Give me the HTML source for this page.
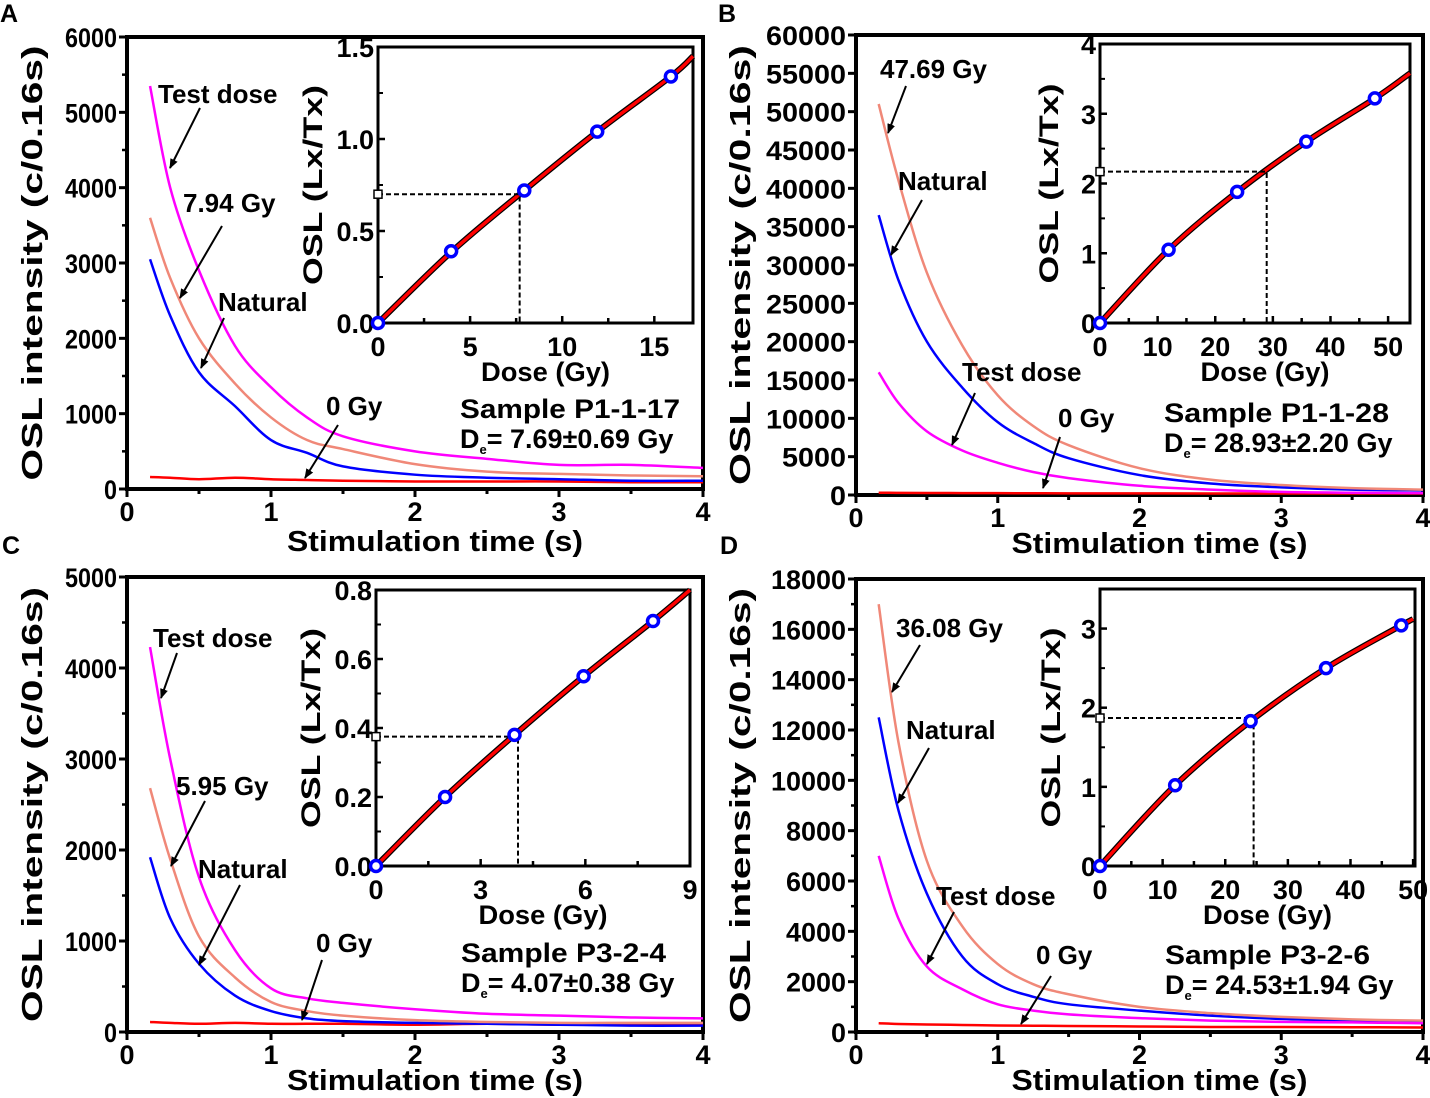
<!DOCTYPE html>
<html><head><meta charset="utf-8">
<style>
body{margin:0;background:#fff;}
svg{display:block;font-family:"Liberation Sans",Arial,sans-serif;font-weight:bold;}
</style></head>
<body>
<svg id="fig" width="1430" height="1098" viewBox="0 0 1430 1098" xmlns="http://www.w3.org/2000/svg">
<defs><marker id="ah" markerWidth="10" markerHeight="10" refX="9" refY="5" orient="auto" markerUnits="userSpaceOnUse"><path d="M0,1 L10,5 L0,9 Z" fill="#000"/></marker></defs>
</svg>
<script>
// shared time axis for decay curves (s)
const times = [0.16,0.3,0.5,0.75,1,1.25,1.5,2,2.5,3,3.5,4];
// Panel A
const aTest = [5350,4000,2900,1900,1350,950,700,500,400,320,320,280];
const aDoseCurve = [3600,2800,2000,1400,950,650,530,330,230,200,180,170];
const aNatural = [3050,2300,1550,1100,650,480,300,190,150,130,110,110];
const aZero = [160,150,130,150,130,120,110,100,100,100,90,90];
const aDose = [0,3.97,7.94,11.9,15.9];
const aLx = [0,0.39,0.72,1.04,1.34];
const aFitX = [0,3.97,7.94,11.9,15.9,17.1];
const aFitY = [0,0.385,0.72,1.04,1.34,1.45];
const aDe = 7.69, aNatLx = 0.70;
// Panel B
const bTest = [16000,12000,8300,5800,4200,3000,2200,1200,700,400,300,250];
const bDoseCurve = [51000,41000,29000,19500,13000,9000,6500,3500,2000,1300,900,700];
const bNatural = [36500,28000,20000,14000,9500,6800,4800,2600,1500,1000,700,600];
const bZero = [300,280,260,250,240,230,220,210,200,200,190,190];
const bDose = [0,11.9,23.8,35.8,47.7];
const bLx = [0,1.05,1.88,2.6,3.22];
const bFitX = [0,11.9,23.8,35.8,47.7,53.8];
const bFitY = [0,1.05,1.88,2.6,3.22,3.58];
const bDe = 28.93, bNatLx = 2.17;
// Panel C
const cTest = [4230,3000,1700,900,480,370,320,250,200,180,160,150];
const cDoseCurve = [2680,1900,1050,600,330,230,180,130,110,100,100,100];
const cNatural = [1920,1250,750,400,230,150,120,100,90,80,70,70];
const cZero = [110,100,90,100,90,90,90,80,90,80,80,80];
const cDose = [0,1.98,3.97,5.95,7.94];
const cLx = [0,0.2,0.38,0.55,0.71];
const cFitX = [0,1.98,3.97,5.95,7.94,9];
const cFitY = [0,0.2,0.38,0.55,0.71,0.8];
const cDe = 4.07, cNatLx = 0.375;
// Panel D
const dTest = [7000,4500,2600,1700,1100,850,700,550,450,400,380,350];
const dDoseCurve = [17000,11500,6800,4200,2700,1900,1500,1000,750,600,500,450];
const dNatural = [12500,8800,5500,3000,1900,1400,1100,850,650,520,450,400];
const dZero = [350,320,300,280,260,250,240,220,200,200,190,180];
const dDose = [0,12,24.05,36.08,48.1];
const dLx = [0,1.02,1.83,2.5,3.04];
const dFitX = [0,12,24.05,36.08,48.1,50];
const dFitY = [0,1.02,1.83,2.5,3.04,3.12];
const dDe = 24.53, dNatLx = 1.87;

const svg = document.getElementById('fig');
const NS = 'http://www.w3.org/2000/svg';
function mk(tag, attrs, parent){
  const e = document.createElementNS(NS, tag);
  for (const k in attrs) e.setAttribute(k, attrs[k]);
  (parent||svg).appendChild(e); return e;
}
function txt(s, x, y, size, anchor, parent, len){
  const t = mk('text', {x:x, y:y, 'font-size':size, 'text-anchor':anchor||'start', fill:'#000'}, parent);
  if (len){ t.setAttribute('textLength', len); t.setAttribute('lengthAdjust','spacingAndGlyphs'); }
  t.textContent = s; return t;
}
function smooth(pts){
  let d = 'M'+pts[0][0]+','+pts[0][1];
  for (let i=0;i<pts.length-1;i++){
    const p0=pts[Math.max(0,i-1)],p1=pts[i],p2=pts[i+1],p3=pts[Math.min(pts.length-1,i+2)];
    const c1=[p1[0]+(p2[0]-p0[0])/6,p1[1]+(p2[1]-p0[1])/6];
    const c2=[p2[0]-(p3[0]-p1[0])/6,p2[1]-(p3[1]-p1[1])/6];
    d+=' C'+c1[0]+','+c1[1]+' '+c2[0]+','+c2[1]+' '+p2[0]+','+p2[1];
  }
  return d;
}
function fmt(v, dec){ return dec ? v.toFixed(dec) : String(v); }

function panel(c){
  const g = mk('g', {});
  
  
  const M = c.main;
  const sx = v => M.l + (v - 0)/(4-0)*(M.r - M.l);
  const sy = v => M.b - v/M.ymax*(M.b - M.t);
  const L = txt(c.letter, c.letterX, c.letterY, 25, 'start', g);
  
  
  const fr = mk('rect', {x:M.l, y:sy(M.ymax), width:M.r-M.l, height:M.b-sy(M.ymax), fill:'none', stroke:'#000', 'stroke-width':4}, g);
  
  
  for (let v=0; v<=M.ymax+1e-9; v+=M.ystep){
    mk('line',{x1:M.l-8,x2:M.l,y1:sy(v),y2:sy(v),stroke:'#000','stroke-width':3},g);
    const s = String(v);
    const t = txt(s, M.l-10, sy(v)+10, 27, 'end', g, s.length*M.digitW);
    
    
    if (M.minor && v+M.ystep/2<M.ymax) mk('line',{x1:M.l-5,x2:M.l,y1:sy(v+M.ystep/2),y2:sy(v+M.ystep/2),stroke:'#000','stroke-width':2.5},g);
  }
  for (let v=0; v<=4; v+=0.5){
    mk('line',{x1:sx(v),x2:sx(v),y1:M.b,y2:M.b+(v%1===0?8:5),stroke:'#000','stroke-width':3},g);
    if (v%1===0){
      const t = txt(String(v), sx(v), M.b+32, 27, 'middle', g);
      
      
    }
  }
  const yt = txt('OSL intensity (c/0.16s)', 0, 0, 29, 'middle', g, c.yTitleLen);
  yt.setAttribute('transform', 'translate('+c.yTitleX+','+((M.t+M.b)/2)+') rotate(-90)');
  
  
  const xt = txt('Stimulation time (s)', (M.l+M.r)/2+20, M.b+c.xTitleDy, 29, 'middle', g, 296);
  
  
  const series = [[c.zero,'#ff0000','zero-gy-curve'],[c.nat,'#0000ff','natural-curve'],[c.dose,'#f08878','regen-dose-curve'],[c.test,'#ff00ff','test-dose-curve']];
  series.forEach(s=>{
    const pts = times.map((t,i)=>[sx(t), sy(s[0][i])]);
    const p = mk('path',{d:smooth(pts),fill:'none',stroke:s[1],'stroke-width':2.5},g);
    
    
  });
  c.ann.forEach(a=>{
    const t = txt(a.s, a.x, a.y, 26, 'start', g);
    
    
    const ar = mk('line',{x1:a.a[0],y1:a.a[1],x2:a.a[2],y2:a.a[3],stroke:'#000','stroke-width':2,'marker-end':'url(#ah)'},g);
    
    
  });
  const s1 = txt(c.sample, c.sx, c.sy, 27, 'start', g, c.sLen);
  
  
  const s2 = mk('text',{x:c.sx, y:c.sy+30, 'font-size':27, fill:'#000'}, g);
  s2.innerHTML = 'D<tspan font-size="13" dy="6">e</tspan><tspan dy="-6">= '+c.deText+'</tspan>';
  
  

  const I = c.inset;
  const ix = v => I.l + v/I.xmax*(I.r-I.l);
  const iy = v => I.b - v/I.ymax*(I.b-I.t);
  const ig = mk('g',{},g);
  
  
  mk('rect',{x:I.l,y:I.t,width:I.r-I.l,height:I.b-I.t,fill:'#fff',stroke:'#000','stroke-width':3},ig);
  for (let v=0; v<=I.ymax+1e-9; v+=I.ystep){
    mk('line',{x1:I.l,x2:I.l+7,y1:iy(v),y2:iy(v),stroke:'#000','stroke-width':2.5},ig);
    const t = txt(fmt(v,I.ydec), I.l-4, iy(v)+10, 27, 'end', ig);
    
    
    if (v+I.ystep/2<=I.ymax) mk('line',{x1:I.l,x2:I.l+5,y1:iy(v+I.ystep/2),y2:iy(v+I.ystep/2),stroke:'#000','stroke-width':2},ig);
  }
  for (let v=0; v<=I.xmax+1e-9; v+=I.xstep/2){
    const major = Math.abs(v/I.xstep - Math.round(v/I.xstep))<1e-6;
    mk('line',{x1:ix(v),x2:ix(v),y1:I.b,y2:I.b-(major?7:5),stroke:'#000','stroke-width':2.5},ig);
    if (major){
      const t = txt(String(Math.round(v*10)/10), ix(v), I.b+33, 27, 'middle', ig);
      
      
    }
  }
  const iyt = txt('OSL (Lx/Tx)', 0, 0, 27, 'middle', ig, 200);
  iyt.setAttribute('transform','translate('+I.titleX+','+((I.t+I.b)/2)+') rotate(-90)');
  
  
  const ixt = txt('Dose (Gy)', (I.l+I.r)/2+10, I.b+58, 27, 'middle', ig, 129);
  
  
  const fp = c.fitX.map((v,i)=>[ix(v), iy(c.fitY[i])]);
  const bk = mk('path',{d:smooth(fp),fill:'none',stroke:'#000','stroke-width':6},ig);
  
  
  const rd = mk('path',{d:smooth(fp),fill:'none',stroke:'#ff0000','stroke-width':3.5},ig);
  
  
  const dh = mk('path',{d:'M'+ix(0)+','+iy(c.natLx)+' H'+ix(c.de)+' V'+I.b,fill:'none',stroke:'#000','stroke-width':2,'stroke-dasharray':'5,3'},ig);
  
  
  const sq = mk('rect',{x:ix(0)-4,y:iy(c.natLx)-4,width:8,height:8,fill:'#fff',stroke:'#000','stroke-width':1.5},ig);
  
  
  c.doses.forEach((d,i)=>{
    const p = mk('circle',{cx:ix(d),cy:iy(c.lx[i]),r:5.5,fill:'#fff',stroke:'#0000ff','stroke-width':3.5},ig);
    
    
  });
}

panel({id:'a',letter:'A',letterX:0,letterY:22,yTitleX:42,yTitleLen:435,xTitleDy:62,
  main:{l:127,r:703,t:37,b:489,ymax:6000,ystep:1000,minor:true,digitW:13},
  test:aTest,dose:aDoseCurve,nat:aNatural,zero:aZero,
  ann:[{s:'Test dose',x:158,y:103,a:[200,108,170,168]},{s:'7.94 Gy',x:183,y:212,a:[222,226,180,298]},
       {s:'Natural',x:218,y:311,a:[224,318,201,368]},{s:'0 Gy',x:326,y:415,a:[338,425,305,478]}],
  sample:'Sample P1-1-17',sx:460,sy:418,sLen:220,deText:'7.69±0.69 Gy',
  inset:{l:378,r:693,t:47,b:323,xmax:17.1,xstep:5,ymax:1.5,ystep:0.5,ydec:1,titleX:322},
  fitX:aFitX,fitY:aFitY,doses:aDose,lx:aLx,de:aDe,natLx:aNatLx});
panel({id:'b',letter:'B',letterX:718,letterY:22,yTitleX:750,yTitleLen:440,xTitleDy:58,
  main:{l:856,r:1423,t:35,b:495,ymax:60000,ystep:5000,minor:false,digitW:16},
  test:bTest,dose:bDoseCurve,nat:bNatural,zero:bZero,
  ann:[{s:'47.69 Gy',x:880,y:78,a:[906,86,888,133]},{s:'Natural',x:898,y:190,a:[922,200,891,255]},
       {s:'Test dose',x:962,y:381,a:[975,393,952,445]},{s:'0 Gy',x:1058,y:427,a:[1060,437,1043,488]}],
  sample:'Sample P1-1-28',sx:1164,sy:422,sLen:225,deText:'28.93±2.20 Gy',
  inset:{l:1100,r:1410,t:44,b:323,xmax:53.8,xstep:10,ymax:4,ystep:1,ydec:0,titleX:1058},
  fitX:bFitX,fitY:bFitY,doses:bDose,lx:bLx,de:bDe,natLx:bNatLx});
panel({id:'c',letter:'C',letterX:2,letterY:554,yTitleX:42,yTitleLen:435,xTitleDy:58,
  main:{l:127,r:703,t:577,b:1032,ymax:5000,ystep:1000,minor:true,digitW:13},
  test:cTest,dose:cDoseCurve,nat:cNatural,zero:cZero,
  ann:[{s:'Test dose',x:153,y:647,a:[177,653,161,698]},{s:'5.95 Gy',x:176,y:795,a:[205,801,171,866]},
       {s:'Natural',x:198,y:878,a:[240,885,199,965]},{s:'0 Gy',x:316,y:952,a:[322,960,302,1020]}],
  sample:'Sample P3-2-4',sx:461,sy:962,sLen:205,deText:'4.07±0.38 Gy',
  inset:{l:376,r:690,t:590,b:866,xmax:9,xstep:3,ymax:0.8,ystep:0.2,ydec:1,titleX:320},
  fitX:cFitX,fitY:cFitY,doses:cDose,lx:cLx,de:cDe,natLx:cNatLx});
panel({id:'d',letter:'D',letterX:720,letterY:554,yTitleX:750,yTitleLen:435,xTitleDy:58,
  main:{l:856,r:1423,t:579,b:1032,ymax:18000,ystep:2000,minor:true,digitW:15},
  test:dTest,dose:dDoseCurve,nat:dNatural,zero:dZero,
  ann:[{s:'36.08 Gy',x:896,y:637,a:[920,645,892,692]},{s:'Natural',x:906,y:739,a:[929,748,898,803]},
       {s:'Test dose',x:936,y:905,a:[954,912,927,964]},{s:'0 Gy',x:1036,y:964,a:[1051,976,1021,1024]}],
  sample:'Sample P3-2-6',sx:1165,sy:964,sLen:205,deText:'24.53±1.94 Gy',
  inset:{l:1100,r:1415,t:589,b:866,xmax:50.3,xstep:10,ymax:3.5,ystep:1,ydec:0,titleX:1060},
  fitX:dFitX,fitY:dFitY,doses:dDose,lx:dLx,de:dDe,natLx:dNatLx});
</script>
</body></html>
